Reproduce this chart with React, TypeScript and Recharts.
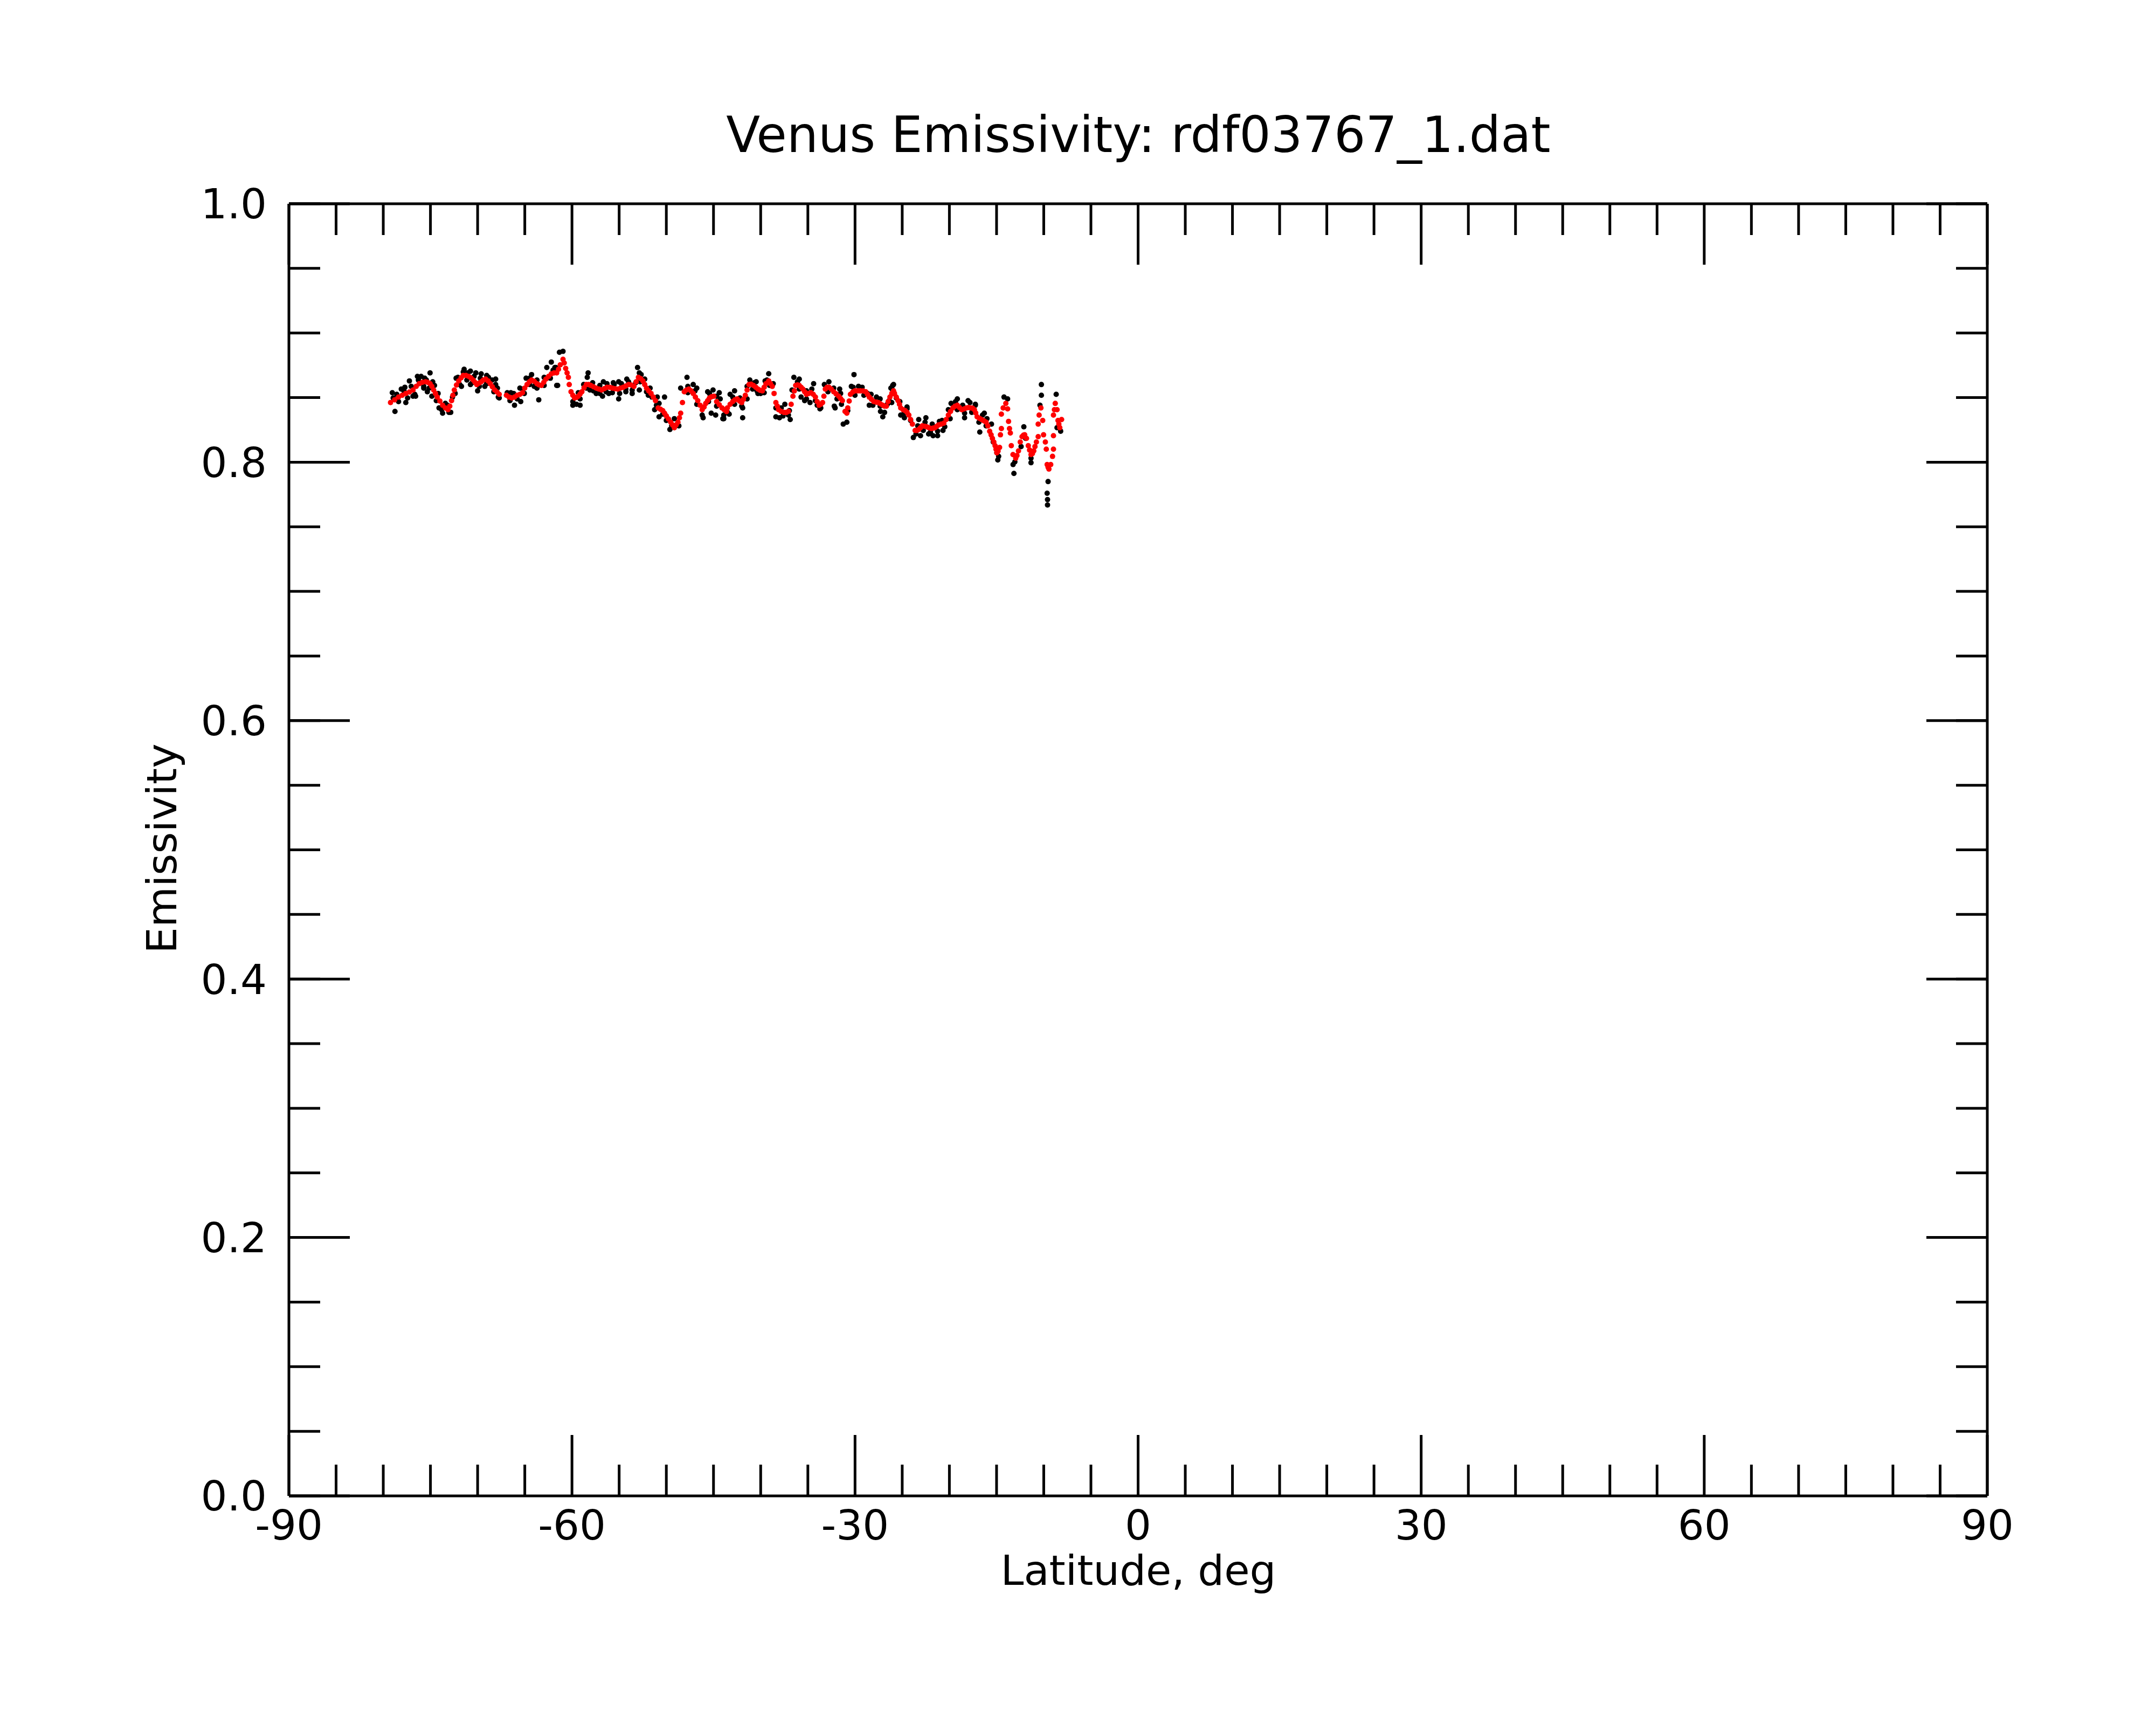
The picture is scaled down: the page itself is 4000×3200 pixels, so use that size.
import React from 'react';
import { ScatterChart, Scatter, XAxis, YAxis } from 'recharts';

const CHART_W = 4000;
const CHART_H = 3200;
const FONT = 'DejaVu Sans';
const THIN = 0.01;
const MAJOR_LEN = 113;
const MINOR_LEN = 58;

const titleText = 'Venus Emissivity: rdf03767_1.dat';
const xLabelText = 'Latitude, deg';
const yLabelText = 'Emissivity';

const xMajorTicks = [-90, -60, -30, 0, 30, 60, 90];
const xMinorTicks = [-90, -85, -80, -75, -70, -65, -60, -55, -50, -45, -40, -35, -30, -25, -20, -15, -10, -5, 0, 5, 10, 15, 20, 25, 30, 35, 40, 45, 50, 55, 60, 65, 70, 75, 80, 85, 90];
const yMajorTicks = [0, 0.2, 0.4, 0.6, 0.8, 1.0];
const yMinorTicks = [0, 0.05, 0.1, 0.15, 0.2, 0.25, 0.3, 0.35, 0.4, 0.45, 0.5, 0.55, 0.6, 0.65, 0.7, 0.75, 0.8, 0.85, 0.9, 0.95, 1.0];

// smoothed (red) series
const redLat = [
  -79.23, -78.38, -77.61, -76.85, -76.19, -75.52, -75.04, -74.66, -74.28, -73.71, -73.14, -72.76, -72.47, -72.0, -71.52, -70.95, -70.47, -70.09, -69.62, -69.14, -68.66, -68.19, -67.71,
  -66.95, -66.38, -65.81, -65.24, -64.76, -64.28, -63.71, -63.24, -62.76, -62.19, -61.62,
  -61.24, -60.95, -60.67, -60.38, -60.29, -60.1, -59.72, -59.33, -58.95, -58.48, -58.0, -57.43, -56.86, -56.29, -55.72, -55.15, -54.57, -54.0, -53.43, -52.96, -52.48, -52.1, -51.62, -51.15, -50.86, -50.38, -50.0, -49.53, -49.15, -48.77, -48.48, -48.29, -48.1, -47.62, -47.15, -46.67, -46.2, -45.82, -45.43, -44.96, -44.67, -44.1, -43.62,
  -43.53, -42.96, -42.48, -42.01, -41.63, -41.24, -40.77, -40.29, -39.82, -39.44, -39.15, -38.77, -38.58, -38.39, -38.1, -37.53, -37.06, -36.77, -36.58, -36.29, -35.91, -35.53, -35.15, -34.68, -34.2, -33.82, -33.44, -33.15, -32.77, -32.26, -31.73, -31.34, -31.06, -30.87, -30.77, -30.49, -30.01, -29.44, -28.87, -28.49, -28.01, -27.53, -27.06, -26.68, -26.3, -25.92,
  -25.82, -25.44, -25.16, -24.68, -24.3, -23.92, -23.63, -23.25, -22.87, -22.39, -21.92, -21.54, -21.16, -20.59, -20.11, -19.63, -19.16, -18.68, -18.2, -17.73, -17.35, -17.06, -16.59, -16.11, -15.73, -15.44, -15.16, -14.97, -14.68, -14.59, -14.49, -14.49, -14.3, -14.02, -13.83, -13.73, -13.63, -13.54, -13.44, -13.26, -12.97, -12.68, -12.49, -12.3, -12.02, -11.83, -11.64, -11.35, -11.06, -10.78, -10.59, -10.59, -10.49, -10.3, -10.11, -10.02, -9.83, -9.73, -9.64, -9.45, -9.26, -9.07, -8.97, -8.97, -8.97, -8.87, -8.78, -8.59, -8.49, -8.3, -8.11,
  -78.79, -77.99, -77.23, -76.51, -75.86, -75.29, -74.85, -74.47, -74.0, -73.42, -72.95, -72.62, -72.24, -71.75, -71.23, -70.72, -70.28, -69.84, -69.39, -68.89, -68.44, -67.94, -66.67, -66.09, -65.52, -65.01, -64.51, -64.0, -63.49, -62.99, -62.48, -61.9,
  -61.43, -60.82, -60.52, -59.91, -59.52, -59.14, -58.72, -58.23, -57.72, -57.14, -56.57, -56.0, -55.43, -54.86, -54.29, -53.72, -53.2, -52.71, -52.29, -51.87, -51.38, -50.61, -50.19, -49.77, -49.34, -48.96, -48.61, -47.87, -47.38, -46.92, -46.42, -46.0, -45.62, -45.2, -44.39, -43.87,
  -43.24, -42.73, -42.24, -41.82, -41.44, -41.02, -40.52, -40.07, -39.63, -38.96, -38.24, -37.82, -37.28, -36.43, -36.1, -35.72, -35.34, -34.92, -34.43, -34.01, -33.63, -33.3, -32.96, -32.52, -32.01, -31.53, -30.62, -30.24, -29.72, -29.15, -28.68, -28.26, -27.77, -27.31, -26.87, -26.49, -26.1,
  -26.05, -25.63, -25.29, -24.91, -24.49, -24.11, -23.44, -23.06, -22.62, -22.17, -21.73, -21.35, -20.87, -20.34, -19.88, -19.39, -18.93, -18.43, -17.98, -17.54, -17.21, -16.83, -16.34, -15.92, -15.58, -15.29, -15.06, -14.84, -12.15, -12.84, -11.5, -11.2, -10.93, -9.54, -8.4,
];
const redEmis = [
  0.8462, 0.8504, 0.8532, 0.8559, 0.8608, 0.8622, 0.8608, 0.8559, 0.8504, 0.8441, 0.8406, 0.8476, 0.8559, 0.8629, 0.8671, 0.8664, 0.8636, 0.8601, 0.8622, 0.8643, 0.8608, 0.8559, 0.8525,
  0.8518, 0.8497, 0.8518, 0.8538, 0.8601, 0.8636, 0.8608, 0.8594, 0.8643, 0.8684, 0.8691,
  0.8754, 0.8796, 0.8726, 0.8657, 0.8601, 0.8545, 0.8497, 0.8511, 0.8545, 0.8601, 0.8594, 0.8573, 0.8559, 0.858, 0.8573, 0.8566, 0.858, 0.8601, 0.8587, 0.8657, 0.8629, 0.8573, 0.8532, 0.8476, 0.842, 0.8399, 0.8358, 0.8309, 0.8267, 0.8309, 0.8379, 0.8462, 0.8545, 0.8566, 0.8532, 0.8476, 0.8406, 0.8455, 0.8497, 0.8511, 0.8469, 0.842, 0.8392,
  0.842, 0.8469, 0.849, 0.8462, 0.8518, 0.8601, 0.8594, 0.8566, 0.8552, 0.8608, 0.8629, 0.8587, 0.8532, 0.8462, 0.8406, 0.8385, 0.8393, 0.8448, 0.8511, 0.8594, 0.8594, 0.8566, 0.8525, 0.8538, 0.8504, 0.8441, 0.8462, 0.8566, 0.858, 0.8545, 0.8511, 0.8476, 0.8393, 0.8379, 0.842, 0.8525, 0.8552, 0.8552, 0.8545, 0.8504, 0.8469, 0.8462, 0.8441, 0.8434, 0.8504, 0.8552,
  0.8532, 0.8476, 0.842, 0.8399, 0.8365, 0.8295, 0.8246, 0.8253, 0.8281, 0.8274, 0.826, 0.8267, 0.8288, 0.8302, 0.8365, 0.842, 0.8441, 0.8406, 0.842, 0.842, 0.8406, 0.8351, 0.833, 0.8309, 0.8239, 0.8184, 0.8128, 0.8073, 0.8114, 0.8212, 0.826, 0.8372, 0.842, 0.8455, 0.8413, 0.8316, 0.826, 0.8226, 0.8128, 0.8059, 0.8031, 0.8087, 0.8156, 0.8198, 0.8212, 0.8184, 0.8128, 0.8059, 0.8087, 0.8156, 0.8198, 0.8295, 0.8365, 0.842, 0.8323, 0.8212, 0.8156, 0.8101, 0.7982, 0.7947, 0.7982, 0.8045, 0.8101, 0.8205, 0.8365, 0.8406, 0.8455, 0.8406, 0.8323, 0.8267, 0.833,
  0.8483, 0.8518, 0.8543, 0.8587, 0.8618, 0.8618, 0.8587, 0.8532, 0.8473, 0.842, 0.8434, 0.8518, 0.8597, 0.8653, 0.8671, 0.8653, 0.8618, 0.8612, 0.8636, 0.8629, 0.8584, 0.8543, 0.8504, 0.8504, 0.8525, 0.8573, 0.8622, 0.8626, 0.8598, 0.8618, 0.8664, 0.8691,
  0.8719, 0.8768, 0.8691, 0.8518, 0.8501, 0.8527, 0.8576, 0.8601, 0.8584, 0.8566, 0.8569, 0.858, 0.8569, 0.8573, 0.859, 0.8597, 0.8622, 0.8646, 0.8601, 0.8552, 0.8504, 0.8409, 0.8379, 0.8334, 0.8288, 0.8288, 0.8344, 0.8559, 0.8552, 0.8504, 0.8441, 0.8427, 0.8476, 0.8507, 0.8445, 0.8406,
  0.8448, 0.8483, 0.8473, 0.8487, 0.8559, 0.8604, 0.858, 0.8557, 0.858, 0.8608, 0.8434, 0.8393, 0.8385, 0.8552, 0.8598, 0.858, 0.8545, 0.8532, 0.8525, 0.8469, 0.8448, 0.8511, 0.858, 0.8566, 0.8529, 0.8493, 0.8473, 0.8543, 0.8552, 0.8551, 0.8525, 0.8487, 0.8465, 0.8451, 0.8434, 0.8469, 0.8532,
  0.8529, 0.8504, 0.8448, 0.8406, 0.8386, 0.833, 0.8246, 0.8267, 0.8278, 0.8267, 0.8263, 0.8277, 0.8295, 0.833, 0.8393, 0.8434, 0.8423, 0.8413, 0.8423, 0.8418, 0.8381, 0.834, 0.832, 0.8281, 0.8212, 0.8156, 0.81, 0.8086, 0.8209, 0.8052, 0.8094, 0.8066, 0.8121, 0.7961, 0.8295,
];

// raw (black) series
const blackLat = [
  -79.04, -78.76, -78.95, -78.09, -77.71, -77.61, -77.23, -76.85, -76.57, -76.38, -75.99, -75.71, -75.43, -75.04, -75.33, -74.57, -74.85, -74.09, -73.71, -72.85, -73.2, -72.28, -71.71, -71.43, -70.76, -70.76, -70.19, -70.0, -69.62, -69.24, -68.85, -68.09, -68.09, -67.81, -66.86, -66.48, -66.09, -65.52, -65.43, -64.86, -64.28, -64.0, -63.52, -62.67, -62.19, -61.81, -61.62, -61.33,
  -60.95, -61.52, -61.71, -59.91, -59.14, -59.52, -58.29, -58.38, -58.1, -57.43, -56.76, -56.67, -56.1, -55.62, -55.05, -55.05, -54.19, -54.29, -53.62, -53.05, -52.86, -52.86, -52.29, -51.91, -51.15, -50.19, -50.77, -51.24, -50.77, -50.0, -49.62, -49.15, -47.81, -47.15, -46.77, -46.1, -45.62, -45.05, -44.39, -44.29, -44.77, -44.01, -45.24,
  -43.91, -43.34, -43.24, -42.77, -41.91, -41.91, -41.15, -40.67, -40.39, -40.01, -39.15, -39.34, -38.39, -38.01, -37.44, -36.87, -36.96, -36.48, -35.91, -35.72, -35.34, -34.77, -34.39, -34.01, -33.72, -32.77, -32.2, -32.11, -31.63, -31.44, -31.25, -30.87, -30.11, -30.39, -29.63, -28.68, -28.49, -27.73, -27.3, -27.06, -26.87, -26.58, -26.01,
  -25.92, -26.11, -25.16, -24.77, -24.49, -23.82, -23.25, -23.06, -22.49, -22.2, -21.73, -21.25, -20.78, -20.68, -19.82, -19.16, -18.39, -18.02, -17.25, -16.78, -16.3, -15.54, -14.87, -14.97, -14.21, -13.83, -13.25, -13.16, -12.4, -12.11, -11.35, -10.25, -10.25, -10.4, -9.54, -9.64, -9.6, -9.6, -8.68, -8.21,
  -78.38, -77.42, -76.66, -75.71, -75.14, -74.38, -73.81, -73.04, -72.38, -71.9, -71.14, -70.57, -69.81, -69.05, -68.28, -67.71, -66.57, -65.81, -65.05, -64.48, -63.71, -62.95, -62.29,
  -59.91, -59.14, -58.48, -57.72, -57.05, -56.38, -55.72, -54.95, -54.29, -53.62, -52.77, -52.1, -51.53, -51.05, -50.38, -49.43, -48.67, -47.72, -46.77, -46.2, -45.53, -44.67, -43.91,
  -43.53, -42.77, -42.01, -41.44, -40.86, -40.29, -39.63, -39.06, -38.39, -37.63, -37.06, -36.48, -35.91, -35.15, -34.2, -33.63, -32.87, -31.91, -30.77, -30.01, -29.06, -28.11, -27.34, -26.39,
  -25.63, -24.87, -24.11, -23.54, -22.77, -22.01, -21.25, -20.49, -19.92, -19.16, -18.39, -17.63, -16.87, -16.11, -15.35, -14.78, -13.06, -11.92, -11.35, -8.59,
  -78.57, -77.8, -77.04, -76.28, -75.61, -74.76, -74.19, -73.42, -72.66, -72.09, -71.52, -71.05, -70.38, -69.71, -69.04, -68.47, -67.9, -66.19, -65.24, -64.48, -63.71, -62.95, -62.0,
  -59.33, -58.76, -57.81, -57.05, -56.29, -55.53, -54.76, -54.0, -53.24, -52.67, -51.72, -50.96, -48.48, -47.72, -46.96, -45.43, -44.67,
  -42.96, -42.2, -41.44, -40.48, -39.53, -38.67, -37.82, -36.68, -36.1, -35.15, -34.58, -33.25, -32.26, -31.53, -30.2, -29.25, -28.3, -27.34, -26.2,
  -26.01, -25.25, -24.49, -23.35, -22.58, -21.82, -21.06, -20.11, -19.35, -18.59, -17.82, -17.25, -16.49, -16.02,
];
const blackEmis = [
  0.8538, 0.8393, 0.8497, 0.8566, 0.858, 0.8462, 0.8629, 0.8511, 0.8511, 0.8664, 0.8664, 0.8573, 0.8636, 0.8691, 0.8545, 0.8594, 0.8511, 0.842, 0.8379, 0.8386, 0.8441, 0.865, 0.8587, 0.8719, 0.8705, 0.8601, 0.8691, 0.8552, 0.8684, 0.8587, 0.8657, 0.8643, 0.8601, 0.8504, 0.8538, 0.8538, 0.8441, 0.8573, 0.8469, 0.865, 0.8678, 0.8587, 0.8483, 0.8733, 0.8775, 0.8733, 0.8594, 0.8851,
  0.8858, 0.8594, 0.8733, 0.8441, 0.8441, 0.8448, 0.8691, 0.8657, 0.8559, 0.8532, 0.8511, 0.8622, 0.8532, 0.8615, 0.849, 0.8622, 0.8643, 0.8545, 0.8532, 0.8733, 0.8691, 0.8559, 0.8643, 0.8518, 0.8497, 0.8504, 0.8455, 0.8406, 0.8351, 0.8323, 0.8253, 0.8337, 0.8657, 0.8601, 0.8573, 0.8344, 0.8545, 0.8559, 0.8538, 0.849, 0.8365, 0.8337, 0.8379,
  0.8337, 0.8372, 0.8525, 0.8552, 0.842, 0.8344, 0.8636, 0.8615, 0.8552, 0.8532, 0.8685, 0.8636, 0.8351, 0.8344, 0.8448, 0.833, 0.8399, 0.8657, 0.8643, 0.8504, 0.8476, 0.8462, 0.8608, 0.8441, 0.8413, 0.8622, 0.8434, 0.842, 0.8566, 0.8448, 0.8295, 0.8309, 0.8678, 0.8587, 0.8587, 0.8532, 0.8441, 0.8504, 0.8393, 0.8351, 0.8385, 0.8448, 0.8594,
  0.8601, 0.8462, 0.8365, 0.8344, 0.8413, 0.8191, 0.833, 0.8205, 0.8344, 0.8219, 0.8205, 0.8205, 0.8323, 0.8246, 0.8455, 0.849, 0.8344, 0.8476, 0.8448, 0.8233, 0.8379, 0.8295, 0.8017, 0.8073, 0.8504, 0.849, 0.7982, 0.7913, 0.8121, 0.8274, 0.7996, 0.8601, 0.8518, 0.8441, 0.785, 0.776, 0.7711, 0.7669, 0.8525, 0.824,
  0.8469, 0.8497, 0.8525, 0.8587, 0.8573, 0.8476, 0.8406, 0.8386, 0.8532, 0.8601, 0.8636, 0.8615, 0.8587, 0.8608, 0.8545, 0.8497, 0.8476, 0.849, 0.8532, 0.8601, 0.8573, 0.8594, 0.865,
  0.8469, 0.849, 0.8573, 0.8552, 0.8532, 0.8545, 0.8538, 0.8532, 0.8566, 0.8559, 0.8622, 0.8545, 0.8504, 0.8441, 0.8372, 0.8281, 0.8281, 0.8538, 0.8448, 0.8365, 0.8469, 0.8434, 0.8365,
  0.8386, 0.8448, 0.8434, 0.849, 0.8566, 0.8532, 0.8538, 0.8594, 0.842, 0.8358, 0.8365, 0.8552, 0.8566, 0.849, 0.8476, 0.842, 0.8545, 0.849, 0.8399, 0.8518, 0.8518, 0.8441, 0.8434, 0.8476,
  0.8497, 0.8372, 0.8323, 0.8219, 0.8246, 0.8233, 0.824, 0.8274, 0.8337, 0.8406, 0.8379, 0.8386, 0.8309, 0.8281, 0.8156, 0.8045, 0.8003, 0.8184, 0.8031, 0.8267,
  0.8525, 0.8552, 0.8587, 0.8636, 0.865, 0.8622, 0.8532, 0.8455, 0.8504, 0.8657, 0.8698, 0.8691, 0.8664, 0.865, 0.8671, 0.8636, 0.8573, 0.8532, 0.8566, 0.865, 0.8636, 0.8657, 0.8712,
  0.8538, 0.8601, 0.8615, 0.8594, 0.8608, 0.8601, 0.8608, 0.8622, 0.8615, 0.8678, 0.8573, 0.8504, 0.8573, 0.8587, 0.8552, 0.8532, 0.8511,
  0.8504, 0.8497, 0.8587, 0.8622, 0.8629, 0.8608, 0.842, 0.8559, 0.8622, 0.8552, 0.8566, 0.8601, 0.8573, 0.8532, 0.858, 0.858, 0.8525, 0.849, 0.8573,
  0.8559, 0.8469, 0.8427, 0.8281, 0.8309, 0.8295, 0.8316, 0.8406, 0.8469, 0.8441, 0.8462, 0.8441, 0.8365, 0.8337,
];

const redData = redLat.map((lat, i) => ({ lat, emis: redEmis[i] }));
const blackData = blackLat.map((lat, i) => ({ lat, emis: blackEmis[i] }));

const axisStroke = { stroke: '#000', strokeWidth: 5 };
const tickFont = { fontSize: 77, fontFamily: FONT, fill: '#000' };

const RedDot = (p: any) => <circle cx={p.cx} cy={p.cy} r={5} fill="#ff0000" />;
const BlackDot = (p: any) => <circle cx={p.cx} cy={p.cy} r={5} fill="#000000" />;
const NoLabel = () => <g />;

const isMajorX = (v: number) => xMajorTicks.indexOf(v) >= 0;

// bottom axis tick: inward tick line + outside label (y is the plot bottom edge)
const BottomTick = (p: any) => {
  const v = p.payload.value;
  const major = isMajorX(v);
  return (
    <g>
      <line x1={p.x} x2={p.x} y1={p.y} y2={p.y - (major ? MAJOR_LEN : MINOR_LEN)} stroke="#000" strokeWidth={5} />
      {major && (
        <text x={p.x} y={p.y + 81} textAnchor="middle" fontSize={77} fontFamily={FONT} fill="#000">{String(v)}</text>
      )}
    </g>
  );
};

// top axis tick: inward tick line (y is the plot top edge)
const TopTick = (p: any) => {
  const v = p.payload.value;
  const major = isMajorX(v);
  return <line x1={p.x} x2={p.x} y1={p.y} y2={p.y + (major ? MAJOR_LEN : MINOR_LEN)} stroke="#000" strokeWidth={5} />;
};

export default function App() {
  return (
    <div style={{ position: 'absolute', left: 0, top: 0, width: CHART_W, height: CHART_H, background: '#fff' }}>
      <ScatterChart width={CHART_W} height={CHART_H} margin={{ top: 378, right: 313, bottom: 425, left: 536 }}>
        <XAxis xAxisId="x" type="number" dataKey="lat" domain={[-90, 90]} allowDataOverflow ticks={xMinorTicks} interval={0}
          height={THIN} tickSize={0} tickMargin={0} tickLine={false} axisLine={axisStroke} tick={BottomTick} />
        <XAxis xAxisId="xt" type="number" dataKey="lat" orientation="top" domain={[-90, 90]} allowDataOverflow ticks={xMinorTicks} interval={0}
          height={THIN} tickSize={0} tickMargin={0} tickLine={false} axisLine={axisStroke} tick={TopTick} />

        <YAxis yAxisId="y" type="number" dataKey="emis" domain={[0, 1]} allowDataOverflow ticks={yMajorTicks} interval={0}
          width={THIN} tickSize={0} tickMargin={41} tickLine={false} axisLine={axisStroke} tick={tickFont}
          tickFormatter={(v: number) => v.toFixed(1)} />
        <YAxis yAxisId="ylMaj" type="number" orientation="left" mirror domain={[0, 1]} allowDataOverflow ticks={yMajorTicks} interval={0}
          width={THIN} tickSize={MAJOR_LEN} tick={NoLabel} tickLine={axisStroke} axisLine={false} />
        <YAxis yAxisId="ylMin" type="number" orientation="left" mirror domain={[0, 1]} allowDataOverflow ticks={yMinorTicks} interval={0}
          width={THIN} tickSize={MINOR_LEN} tick={NoLabel} tickLine={axisStroke} axisLine={false} />
        <YAxis yAxisId="yrMaj" type="number" orientation="right" mirror domain={[0, 1]} allowDataOverflow ticks={yMajorTicks} interval={0}
          width={THIN} tickSize={MAJOR_LEN} tick={NoLabel} tickLine={axisStroke} axisLine={axisStroke} />
        <YAxis yAxisId="yrMin" type="number" orientation="right" mirror domain={[0, 1]} allowDataOverflow ticks={yMinorTicks} interval={0}
          width={THIN} tickSize={MINOR_LEN} tick={NoLabel} tickLine={axisStroke} axisLine={false} />

        {/* binds the top axis to the same data so its ticks are generated; draws nothing */}
        <Scatter xAxisId="xt" yAxisId="y" data={redData} shape={NoLabel} isAnimationActive={false} />
        <Scatter xAxisId="x" yAxisId="y" data={blackData} fill="#000" shape={BlackDot} isAnimationActive={false} />
        <Scatter xAxisId="x" yAxisId="y" data={redData} fill="#f00" shape={RedDot} isAnimationActive={false} />
      </ScatterChart>
      <svg width={CHART_W} height={CHART_H} style={{ position: 'absolute', left: 0, top: 0, pointerEvents: 'none' }}>
        <text x={2112} y={282} textAnchor="middle" fontSize={92} fontFamily={FONT} fill="#000">{titleText}</text>
        <text x={2112} y={2940} textAnchor="middle" fontSize={77} fontFamily={FONT} fill="#000">{xLabelText}</text>
        <text x={327} y={1574} textAnchor="middle" fontSize={77} fontFamily={FONT} fill="#000" transform="rotate(-90 327 1574)">{yLabelText}</text>
      </svg>
    </div>
  );
}
